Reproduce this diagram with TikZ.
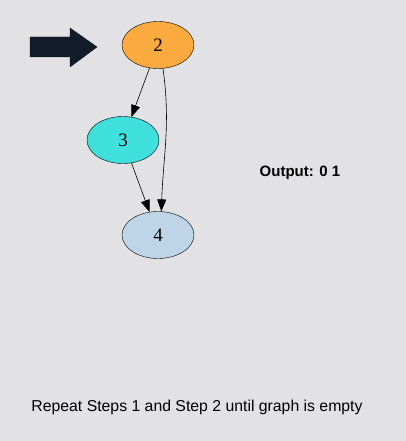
\documentclass[tikz,border=0pt]{standalone}
\usepackage{fontspec}
\setmainfont{Liberation Serif}
\newfontfamily\labelfont{Liberation Sans}
\usetikzlibrary{positioning, arrows.meta, shapes.geometric}
\definecolor{bgcol}{HTML}{E2E2E4}
\definecolor{orangecol}{HTML}{FBAA3F}
\definecolor{turqcol}{HTML}{40E0DC}
\definecolor{bluecol}{HTML}{BED5E7}
\definecolor{navycol}{HTML}{111B2A}

\begin{document}
\begin{tikzpicture}[
    x=1pt, y=1pt,
    vert/.style={draw, ellipse, thin, minimum width=72pt, minimum height=47pt, inner sep=0pt, font=\fontsize{19}{21}\selectfont},
    arr/.style={-{Triangle[length=12pt, width=9pt]}, semithick},
    note/.style={font=\labelfont\fontsize{15.8}{18}\selectfont},
]
\fill[bgcol] (0,0) rectangle (406,-441);
\useasboundingbox (0,0) rectangle (406,-441);

% pointer
\fill[navycol, draw=navycol!70!black] (30,-37) -- (70,-37) -- (70,-28) -- (97,-47) -- (70,-67) -- (70,-57) -- (30,-57) -- cycle;

% graph
\node[vert, fill=orangecol] (n2) at (158,-45) {2};
\node[vert, fill=turqcol] (n3) at (123,-140) {3};
\node[vert, fill=bluecol] (n4) at (158,-235) {4};

\draw[arr] (n2) -- (n3);
\draw[arr] (n3) -- (n4);
\draw[arr] (n2.-78) to[out=-82, in=88] (n4.82);

% texts
\node[font=\labelfont\bfseries\fontsize{15}{17}\selectfont] (out) at (300,-173) {Output: 0 1};
\node[note] (msg) at (197,-407) {Repeat Steps 1 and Step 2 until graph is empty};
\end{tikzpicture}
\end{document}
